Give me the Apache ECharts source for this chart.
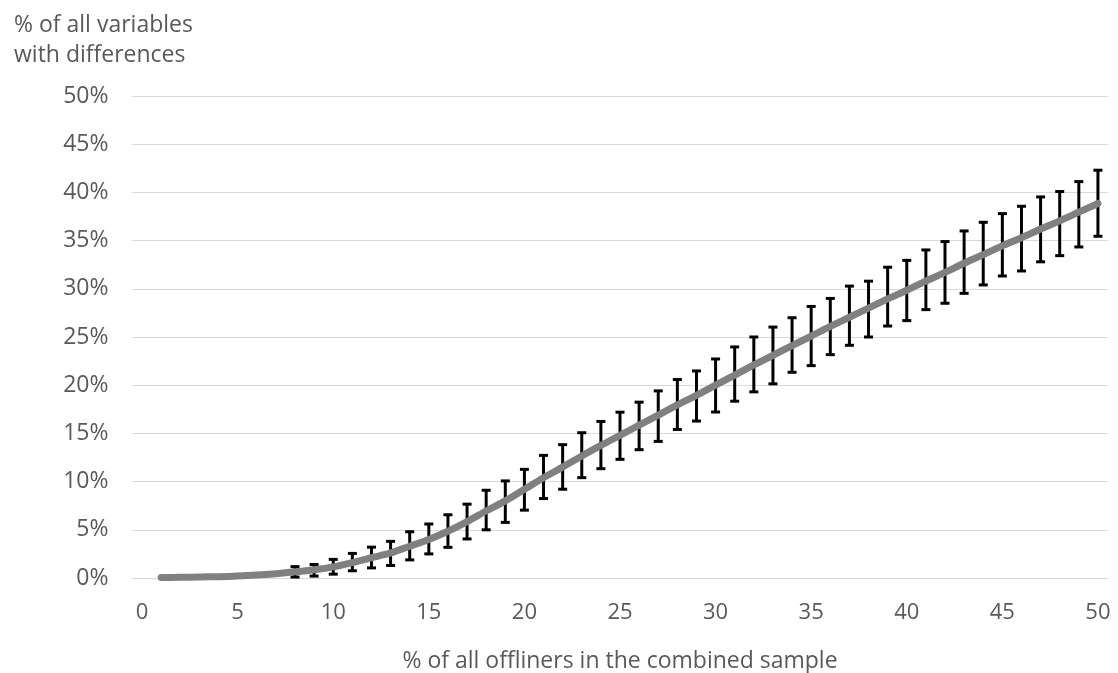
<!DOCTYPE html>
<html>
<head>
<meta charset="utf-8">
<script src="https://cdn.jsdelivr.net/npm/echarts@6/dist/echarts.min.js"></script>
<style>
html,body{margin:0;padding:0;background:#fff;overflow:hidden;}
#chart{width:1118px;height:673px;}
</style>
</head>
<body>
<div id="chart"></div>
<script>
const categories = ['0','1','2','3','4','5','6','7','8','9','10','11','12','13','14','15','16','17','18','19','20','21','22','23','24','25','26','27','28','29','30','31','32','33','34','35','36','37','38','39','40','41','42','43','44','45','46','47','48','49','50'];
const yTicks = [0,5,10,15,20,25,30,35,40,45,50];
// mean % of variables with differences (index = category)
const meanValues = [null,0.05,0.07,0.1,0.14,0.2,0.3,0.45,0.64,0.85,1.15,1.6,2.1,2.6,3.3,4.0,4.85,5.85,6.95,8.0,9.2,10.4,11.5,12.65,13.75,14.8,15.85,16.9,17.95,18.95,20.0,21.05,22.1,23.1,24.1,25.1,26.1,27.05,28.0,28.95,29.85,30.8,31.7,32.65,33.55,34.45,35.3,36.2,37.05,37.95,38.85];
// error bar bounds
const upperValues = [null,null,null,null,null,null,null,null,1.18,1.4,1.93,2.55,3.2,3.8,4.8,5.6,6.56,7.66,9.1,10.07,11.27,12.72,13.83,15.07,16.24,17.2,18.24,19.41,20.59,21.48,22.72,23.97,25.0,26.03,27.0,28.17,29.0,30.28,30.79,32.24,32.95,34.03,34.9,36.0,36.9,37.8,38.56,39.53,40.09,41.12,42.3];
const lowerValues = [null,null,null,null,null,null,null,null,0.1,0.2,0.4,0.75,1.05,1.3,1.88,2.5,3.18,4.05,5.0,5.77,7.04,8.24,9.21,10.41,11.34,12.31,13.31,14.17,15.41,16.28,17.22,18.34,19.31,20.14,21.34,22.03,23.17,24.14,25.0,26.14,26.7,27.84,28.5,29.53,30.4,31.33,31.85,32.8,33.44,34.34,35.45];

const errData = [];
for (let i = 0; i < categories.length; i++) {
  if (upperValues[i] != null && lowerValues[i] != null) errData.push([i, lowerValues[i], upperValues[i]]);
}

const FONT = 'Open Sans';
const TXT = '#595959';

const chart = echarts.init(document.getElementById('chart'));
chart.setOption({
  animation: false,
  backgroundColor: '#ffffff',
  title: {
    text: '% of all variables\nwith differences',
    left: 9,
    top: 5,
    textStyle: { fontFamily: FONT, fontSize: 23, fontWeight: 'normal', color: TXT, lineHeight: 30 }
  },
  grid: { left: 132.5, right: 10.5, top: 96, bottom: 95, containLabel: false, outerBoundsMode: 'none' },
  xAxis: {
    type: 'category',
    data: categories,
    boundaryGap: true,
    axisLine: { show: true, lineStyle: { color: '#d9d9d9', width: 1 } },
    axisTick: { show: false },
    axisLabel: { interval: 4, color: TXT, fontFamily: FONT, fontSize: 22, margin: 24 },
    name: '% of all offliners in the combined sample',
    nameLocation: 'middle',
    nameGap: 72,
    nameTextStyle: { color: TXT, fontFamily: FONT, fontSize: 23 }
  },
  yAxis: {
    type: 'value',
    min: 0, max: 50, interval: 5,
    axisLine: { show: false },
    axisTick: { show: false },
    axisLabel: { color: TXT, fontFamily: FONT, fontSize: 23, margin: 24,
      formatter: function (v) { return yTicks.indexOf(v) >= 0 ? v + '%' : ''; } },
    splitLine: { lineStyle: { color: '#d9d9d9', width: 1 } }
  },
  series: [
    {
      type: 'custom',
      z: 2,
      data: errData,
      encode: { x: 0, y: [1, 2] },
      renderItem: function (params, api) {
        const x = api.value(0);
        const lo = api.coord([x, api.value(1)]);
        const hi = api.coord([x, api.value(2)]);
        const hw = 4.5;
        const st = { stroke: '#000000', lineWidth: 3 };
        return {
          type: 'group',
          children: [
            { type: 'line', shape: { x1: lo[0], y1: lo[1], x2: hi[0], y2: hi[1] }, style: st },
            { type: 'line', shape: { x1: hi[0] - hw, y1: hi[1], x2: hi[0] + hw, y2: hi[1] }, style: st },
            { type: 'line', shape: { x1: lo[0] - hw, y1: lo[1], x2: lo[0] + hw, y2: lo[1] }, style: st }
          ]
        };
      }
    },
    {
      type: 'line',
      z: 3,
      data: meanValues,
      smooth: 0.3,
      showSymbol: false,
      symbol: 'none',
      lineStyle: { color: '#808080', width: 7, cap: 'round', join: 'round' },
      itemStyle: { color: '#808080' }
    }
  ]
});
</script>
</body>
</html>
